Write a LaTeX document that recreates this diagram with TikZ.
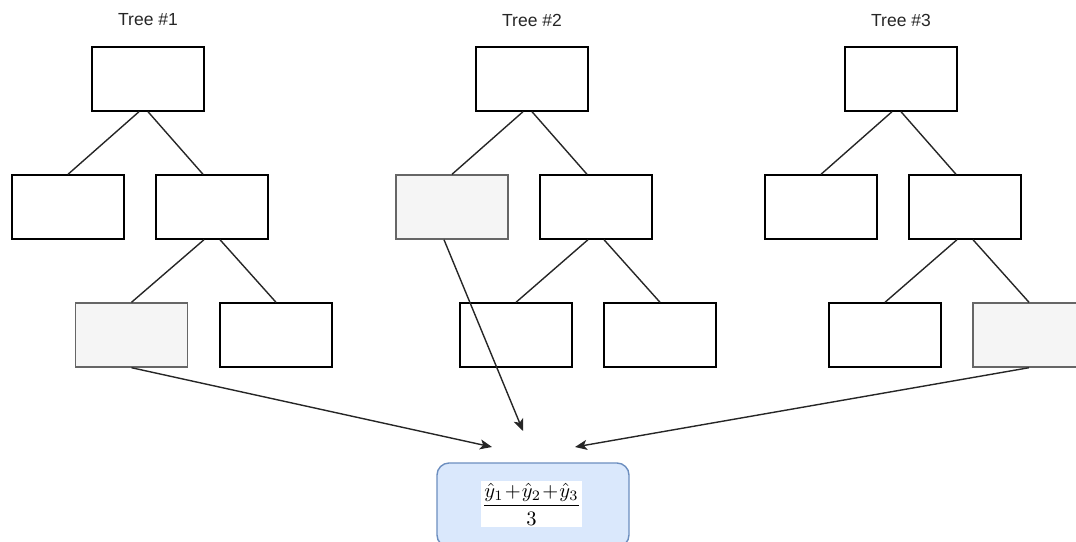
\documentclass[tikz,border=0pt]{standalone}
\usepackage{fontspec}
\usepackage{graphicx}
\newfontfamily\labelfont{Liberation Sans}
\usetikzlibrary{arrows.meta}

\definecolor{leafgray}{HTML}{F5F5F5}
\definecolor{leafedge}{HTML}{666666}
\definecolor{avgfill}{HTML}{DAE8FC}
\definecolor{avgedge}{HTML}{6C8EBF}

\tikzset{
  treebox/.style={draw=black, line width=1.4pt, fill=white,
    minimum width=112pt, minimum height=64pt, inner sep=0pt},
  leafbox/.style={treebox, draw=leafedge, fill=leafgray},
  branch/.style={draw=black!85, line width=1.4pt},
  vote/.style={draw=black!85, line width=1.4pt,
    -{Stealth[length=12pt,width=10pt,inset=3pt]}},
  treetitle/.style={font=\labelfont\fontsize{17.5}{20}\selectfont, text=black!85},
  avgbox/.style={draw=avgedge, fill=avgfill, line width=1.4pt,
    rounded corners=12pt, minimum width=192pt, minimum height=84pt},
}

\begin{document}
\begin{tikzpicture}[x=1pt, y=-1pt]
  \useasboundingbox (0,0) rectangle (1076,541);

  % ---------- Tree #1 ----------
  \node[treetitle] (title1) at (148,20) {Tree \#1};
  \node[treebox] (a0) at (148,79) {};
  \node[treebox] (a1) at (68,207) {};
  \node[treebox] (a2) at (212,207) {};
  \node[leafbox] (a3) at (131.5,335) {};
  \node[treebox] (a4) at (276,335) {};
  \draw[branch] ([xshift=-9pt]a0.south) -- (a1.north);
  \draw[branch] (a0.south) -- ([xshift=-9pt]a2.north);
  \draw[branch] ([xshift=-8pt]a2.south) -- (a3.north);
  \draw[branch] ([xshift=8pt]a2.south) -- (a4.north);

  % ---------- Tree #2 ----------
  \node[treetitle] (title2) at (532,20) {Tree \#2};
  \node[treebox] (b0) at (532,79) {};
  \node[leafbox] (b1) at (452,207) {};
  \node[treebox] (b2) at (596,207) {};
  \node[treebox] (b3) at (516,335) {};
  \node[treebox] (b4) at (660,335) {};
  \draw[branch] ([xshift=-9pt]b0.south) -- (b1.north);
  \draw[branch] (b0.south) -- ([xshift=-9pt]b2.north);
  \draw[branch] ([xshift=-8pt]b2.south) -- (b3.north);
  \draw[branch] ([xshift=8pt]b2.south) -- (b4.north);

  % ---------- Tree #3 ----------
  \node[treetitle] (title3) at (901,20) {Tree \#3};
  \node[treebox] (c0) at (901,79) {};
  \node[treebox] (c1) at (821,207) {};
  \node[treebox] (c2) at (965,207) {};
  \node[treebox] (c3) at (885,335) {};
  \node[leafbox] (c4) at (1029,335) {};
  \draw[branch] ([xshift=-9pt]c0.south) -- (c1.north);
  \draw[branch] (c0.south) -- ([xshift=-9pt]c2.north);
  \draw[branch] ([xshift=-8pt]c2.south) -- (c3.north);
  \draw[branch] ([xshift=8pt]c2.south) -- (c4.north);

  % ---------- averaging of the three predictions ----------
  \node[avgbox] (avg) at (533,505) {};
  \node[fill=white, inner sep=0pt, minimum width=101pt, minimum height=46pt]
    (formula) at (531.5,504)
    {\scalebox{2.05}{$\medmuskip=1mu\displaystyle\frac{\hat{y}_1+\hat{y}_2+\hat{y}_3}{3}$}};

  \coordinate (in1) at (492,447);
  \coordinate (in2) at (523,431);
  \coordinate (in3) at (575,447);
  \draw[vote] (a3.south) -- (in1);
  \draw[vote] ([xshift=-8pt]b1.south) -- (in2);
  \draw[vote] (c4.south) -- (in3);
\end{tikzpicture}
\end{document}
